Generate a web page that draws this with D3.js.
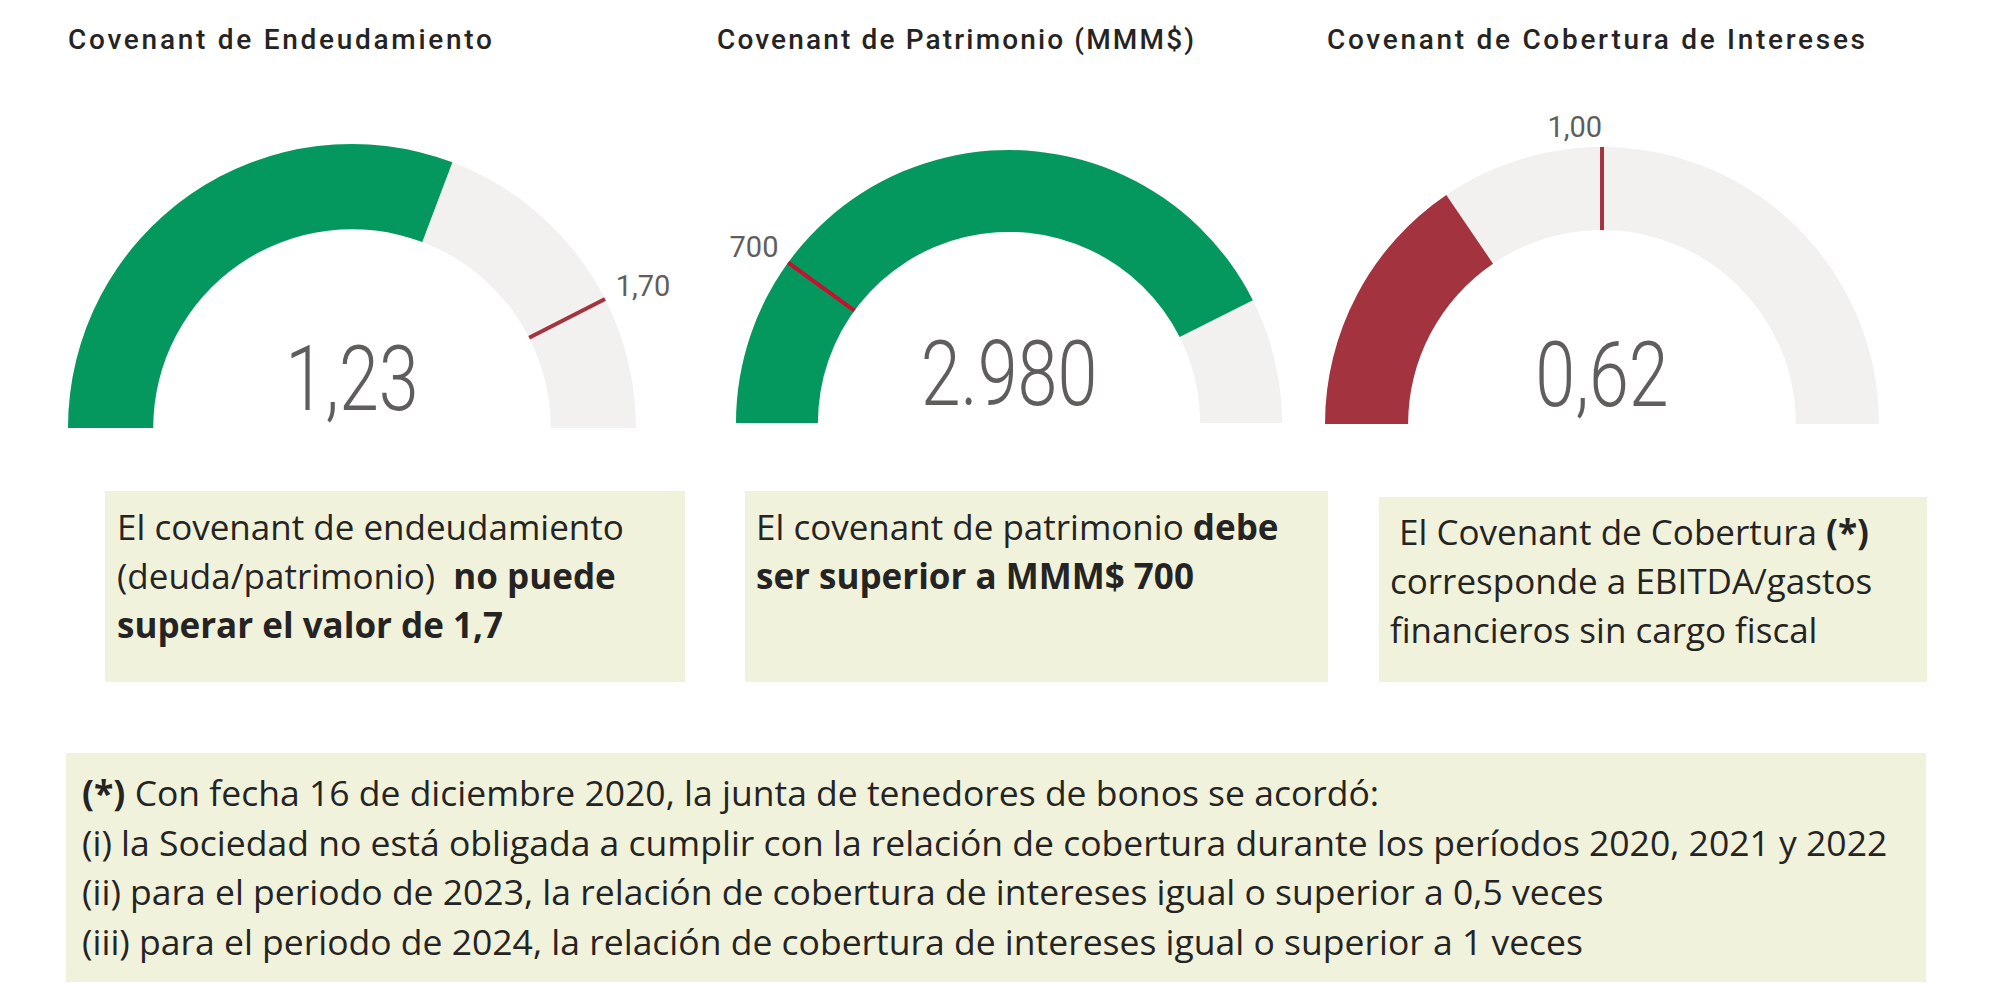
<!DOCTYPE html>
<html>
<head>
<meta charset="utf-8">
<script src="https://cdn.jsdelivr.net/npm/d3@7"></script>
<style>
  html, body { margin: 0; padding: 0; background: #ffffff; }
  svg { display: block; }
  text { white-space: pre; }
</style>
</head>
<body>
<svg id="chart" width="2000" height="1000"></svg>
<script>
// ---------------- DATA ----------------
const titles = ["Covenant de Endeudamiento", "Covenant de Patrimonio (MMM$)", "Covenant de Cobertura de Intereses"];
const values = [1.23, 2980, 0.62];
const targets = [1.70, 700, 1.00];
const minima = [0, 0, 0];
const maxima = [2, 3500, 2];
const valueFormats = [",.2f", ",.0f", ",.2f"];
const targetFormats = [",.2f", ",.0f", ",.2f"];
// "max": value must not exceed target; "min": value must be at least target
const targetRules = ["max", "min", "min"];

const box1Lines = [
  [["El covenant de endeudamiento", false]],
  [["(deuda/patrimonio)  ", false], ["no puede", true]],
  [["superar el valor de 1,7", true]]
];
const box2Lines = [
  [["El covenant de patrimonio ", false], ["debe", true]],
  [["ser superior a MMM$ 700", true]]
];
const box3Lines = [
  [[" El Covenant de Cobertura ", false], ["(*)", true]],
  [["corresponde a EBITDA/gastos", false]],
  [["financieros sin cargo fiscal", false]]
];
const footnoteLines = [
  [["(*)", true], [" Con fecha 16 de diciembre 2020, la junta de tenedores de bonos se acordó:", false]],
  [["(i) la Sociedad no está obligada a cumplir con la relación de cobertura durante los períodos 2020, 2021 y 2022", false]],
  [["(ii) para el periodo de 2023, la relación de cobertura de intereses igual o superior a 0,5 veces", false]],
  [["(iii) para el periodo de 2024, la relación de cobertura de intereses igual o superior a 1 veces", false]]
];

// ---------------- STYLE / LAYOUT ----------------
const COLORS = {
  ok: "#04985F",
  bad: "#A3343F",
  track: "#F2F1F0",
  valueText: "#605E5C",
  title: "#252423",
  text: "#252423",
  box: "#F0F2DC"
};
const targetColors = ["#A3343F", "#C8102E", "#A3343F"];
const gaugeLayout = [
  { cx: 352, cy: 428, R: 284, titleX: 68, titleW: 424 },
  { cx: 1009, cy: 423, R: 273, titleX: 717, titleW: 477 },
  { cx: 1602, cy: 424, R: 277, titleX: 1327, titleW: 538 }
];
const boxLayout = [
  { x: 105, y: 491, w: 580, h: 191, tx: 117, ty: 540, lh: 49, fs: 35 },
  { x: 745, y: 491, w: 583, h: 191, tx: 756, ty: 540, lh: 49, fs: 35 },
  { x: 1379, y: 497, w: 548, h: 185, tx: 1390, ty: 545, lh: 49, fs: 35 }
];
const footLayout = { x: 66, y: 753, w: 1860, h: 229, tx: 82, ty: 806, lh: 49.5, fs: 35.5 };

const locale = d3.formatLocale({ decimal: ",", thousands: ".", grouping: [3], currency: ["$", ""] });

const svg = d3.select("#chart");

// ---------------- GAUGES ----------------
titles.forEach((title, i) => {
  const L = gaugeLayout[i];
  const r0 = L.R * 0.70;
  const angle = d3.scaleLinear().domain([minima[i], maxima[i]]).range([-Math.PI / 2, Math.PI / 2]).clamp(true);
  const ok = targetRules[i] === "max" ? values[i] <= targets[i] : values[i] >= targets[i];

  const g = svg.append("g").attr("transform", `translate(${L.cx},${L.cy})`);
  const arc = d3.arc().innerRadius(r0).outerRadius(L.R);

  // title
  svg.append("text")
    .attr("x", L.titleX).attr("y", 49)
    .attr("font-family", "Roboto, 'DejaVu Sans', sans-serif")
    .attr("font-weight", 500)
    .attr("font-size", 28)
    .attr("fill", COLORS.title)
    .attr("textLength", L.titleW)
    .attr("lengthAdjust", "spacing")
    .text(title);

  // track
  g.append("path")
    .attr("d", arc({ startAngle: angle(minima[i]), endAngle: angle(maxima[i]) }))
    .attr("fill", COLORS.track);
  // value arc
  g.append("path")
    .attr("d", arc({ startAngle: angle(minima[i]), endAngle: angle(values[i]) }))
    .attr("fill", ok ? COLORS.ok : COLORS.bad);

  // target marker
  const ta = angle(targets[i]);
  const sx = Math.sin(ta), sy = -Math.cos(ta);
  g.append("line")
    .attr("x1", r0 * sx).attr("y1", r0 * sy)
    .attr("x2", L.R * sx).attr("y2", L.R * sy)
    .attr("stroke", targetColors[i])
    .attr("stroke-width", 4);

  // target label
  const lr = L.R + 12;
  g.append("text")
    .attr("x", lr * sx)
    .attr("y", lr * sy + 2)
    .attr("text-anchor", ta > 0.001 ? "start" : "end")
    .attr("font-family", "Roboto, sans-serif")
    .attr("font-weight", 400)
    .attr("font-size", 29)
    .attr("fill", COLORS.valueText)
    .text(locale.format(targetFormats[i])(targets[i]));

  // value label
  const vt = g.append("text")
    .attr("x", 0)
    .attr("y", -18)
    .attr("text-anchor", "middle")
    .attr("font-family", "Roboto, sans-serif")
    .attr("font-weight", 300)
    .attr("font-size", 91)
    .attr("fill", COLORS.valueText)
    .text(locale.format(valueFormats[i])(values[i]));
  const natural = vt.node().getComputedTextLength();
  vt.attr("textLength", natural * 0.79).attr("lengthAdjust", "spacingAndGlyphs");
});

// ---------------- TEXT BOXES ----------------
function drawBox(lines, B) {
  svg.append("rect")
    .attr("x", B.x).attr("y", B.y).attr("width", B.w).attr("height", B.h)
    .attr("fill", COLORS.box);
  lines.forEach((segs, li) => {
    const t = svg.append("text")
      .attr("x", B.tx)
      .attr("y", B.ty + li * B.lh)
      .attr("font-family", "'Open Sans', 'Noto Sans', sans-serif")
      .attr("font-size", B.fs)
      .attr("fill", COLORS.text)
      .attr("xml:space", "preserve");
    segs.forEach(([s, bold]) => {
      t.append("tspan").attr("font-weight", bold ? 700 : 400).text(s);
    });
  });
}
drawBox(box1Lines, boxLayout[0]);
drawBox(box2Lines, boxLayout[1]);
drawBox(box3Lines, boxLayout[2]);
drawBox(footnoteLines, footLayout);
</script>
</body>
</html>
